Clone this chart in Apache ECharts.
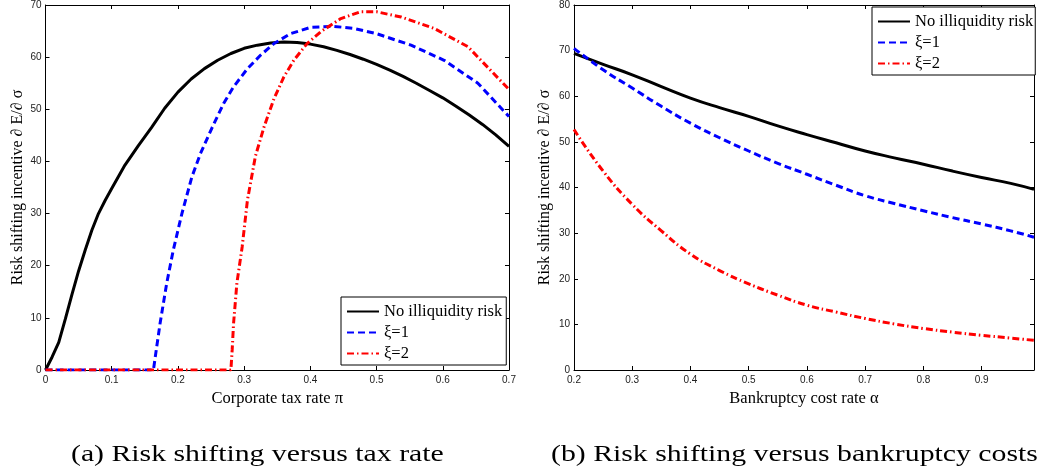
<!DOCTYPE html>
<html>
<head>
<meta charset="utf-8">
<script src="https://cdn.jsdelivr.net/npm/echarts@6/dist/echarts.min.js"></script>
<style>
html,body{margin:0;padding:0;background:#fff;}
#c{width:1037px;height:475px;}
</style>
</head>
<body>
<div id="c"></div>
<script>
// ---- Data ----
const seriesNames = ['No illiquidity risk', 'ξ=1', 'ξ=2'];

// (a) Risk shifting vs corporate tax rate π
const taxNoIlliq = [[0,0],[0.01,2.5],[0.02,5.3],[0.03,9.8],[0.04,14.5],[0.05,19],[0.06,23],[0.07,26.8],[0.08,30],[0.09,32.5],[0.10,34.8],[0.12,39.3],[0.14,43],[0.16,46.5],[0.18,50.2],[0.20,53.3],[0.22,55.8],[0.24,57.8],[0.26,59.4],[0.28,60.7],[0.30,61.7],[0.32,62.3],[0.34,62.7],[0.36,62.9],[0.38,62.8],[0.40,62.5],[0.42,62],[0.44,61.3],[0.46,60.5],[0.48,59.6],[0.50,58.6],[0.52,57.5],[0.54,56.3],[0.56,55],[0.58,53.6],[0.60,52.2],[0.62,50.6],[0.64,48.9],[0.66,47.1],[0.68,45.1],[0.70,42.9]];
const taxXi1 = [[0,0],[0.163,0],[0.168,4.5],[0.173,8.9],[0.183,16.6],[0.193,23],[0.206,30],[0.221,37],[0.234,41.5],[0.252,46.6],[0.269,51.1],[0.284,54.3],[0.305,57.8],[0.325,60.4],[0.345,62.6],[0.37,64.5],[0.4,65.7],[0.436,65.9],[0.466,65.5],[0.5,64.5],[0.552,62.3],[0.602,59.4],[0.653,55],[0.7,48.6]];
const taxXi2 = [[0,0],[0.28,0],[0.282,4],[0.284,8.9],[0.289,16.6],[0.297,23.6],[0.305,32.6],[0.317,41],[0.33,46.6],[0.345,52],[0.36,56.2],[0.375,59.4],[0.395,62.6],[0.416,64.9],[0.446,67.4],[0.476,68.7],[0.5,68.7],[0.537,67.7],[0.587,65.5],[0.638,62],[0.7,53.8]];

// (b) Risk shifting vs bankruptcy cost rate α
const alphaX   = [0.2,0.25,0.3,0.35,0.4,0.45,0.5,0.55,0.6,0.65,0.7,0.75,0.8,0.85,0.9,0.95,0.99];
const bkNoIlliq = [69.4,67,64.7,62.1,59.6,57.5,55.6,53.5,51.6,49.8,48,46.5,45.1,43.6,42.2,40.9,39.6];
const bkXi1     = [70.5,65.8,61.8,57.8,54.1,50.9,48,45.3,42.9,40.5,38.2,36.5,34.9,33.4,32,30.5,29.1];
const bkXi2     = [52.7,43.6,36.3,30.5,25.4,21.8,18.9,16.4,14.2,12.7,11.3,10.1,9.1,8.3,7.6,7,6.5];

const xTitleA = 'Corporate tax rate π';
const xTitleB = 'Bankruptcy cost rate α';
const yTitle = 'Risk shifting incentive ∂ E/∂ σ';
const captionA = '(a) Risk shifting versus tax rate';
const captionB = '(b) Risk shifting versus bankruptcy costs';

// ---- Styles ----
const colors = ['#000000', '#0000ff', '#ff0000'];
const lineTypes = ['solid', [7,4], [7,3,1.5,3]];
const serif = 'Liberation Serif';
const sans = 'Liberation Sans';

function pairs(xs, ys){ return xs.map((x,i)=>[x, ys[i]]); }
function fmtX(v){
  const r = Math.round(v*10)/10;
  if (Math.abs(r - v) > 1e-6) return '';
  return r === 0 ? '0' : String(r);
}

function axisPair(gi, min, max, interval, isX, name, gap){
  const common = {
    gridIndex: gi, type: 'value', min: min, max: max, interval: interval,
    axisLine: {show: true, onZero: false, lineStyle: {color: '#000', width: 1}},
    axisTick: {show: true, inside: true, length: 4, lineStyle: {color: '#000', width: 1}},
    splitLine: {show: false}
  };
  const main = Object.assign({}, common, {
    position: isX ? 'bottom' : 'left',
    axisLabel: {show: true, fontFamily: sans, fontSize: 10, color: '#222', margin: isX ? 5 : 4,
      formatter: isX ? fmtX : (v => String(Math.round(v))), showMaxLabel: true},
    name: name, nameLocation: 'middle',
    nameGap: gap,
    nameTextStyle: {fontFamily: serif, fontSize: isX ? 16.5 : 16, color: '#000'}
  });
  const opp = Object.assign({}, common, {
    position: isX ? 'top' : 'right',
    axisLabel: {show: false}
  });
  return [main, opp];
}

const xa = axisPair(0, 0, 0.7, 0.1, true, xTitleA, 16);
const xb = axisPair(1, 0.2, 0.99, 0.1, true, xTitleB, 16);
const ya = axisPair(0, 0, 70, 10, false, yTitle, 19.5);
const yb = axisPair(1, 0, 80, 10, false, yTitle, 21);

function mkSeries(name, idx, data, gi, smooth){
  return {
    name: name, type: 'line', xAxisIndex: gi*2, yAxisIndex: gi*2,
    data: data, symbol: 'none', smooth: smooth, clip: true,
    lineStyle: {color: colors[idx], width: 3, type: lineTypes[idx]},
    itemStyle: {color: colors[idx]}
  };
}

const legendCommon = {
  orient: 'vertical', backgroundColor: '#fff', borderColor: '#000', borderWidth: 1,
  padding: [6, 4, 3, 5], itemGap: 4, itemWidth: 32, itemHeight: 2,
  itemStyle: {color: 'rgba(0,0,0,0)', borderWidth: 0, opacity: 0},
  textStyle: {fontFamily: serif, fontSize: 16.5, color: '#000', lineHeight: 17},
  data: seriesNames
};

const option = {
  animation: false,
  backgroundColor: '#fff',
  grid: [
    {left: 45.5, right: 528, top: 5, bottom: 105, containLabel: false},
    {left: 574, right: 1.5, top: 3, bottom: 105, containLabel: false}
  ],
  xAxis: [xa[0], xa[1], xb[0], xb[1]],
  yAxis: [ya[0], ya[1], yb[0], yb[1]],
  legend: [
    Object.assign({}, legendCommon, {left: 341, top: 297}),
    Object.assign({}, legendCommon, {left: 872, top: 7, padding: [6, 2, 3, 5]})
  ],
  series: [
    mkSeries(seriesNames[0], 0, taxNoIlliq, 0, false),
    mkSeries(seriesNames[1], 1, taxXi1, 0, false),
    mkSeries(seriesNames[2], 2, taxXi2, 0, false),
    mkSeries(seriesNames[0], 0, pairs(alphaX, bkNoIlliq), 1, true),
    mkSeries(seriesNames[1], 1, pairs(alphaX, bkXi1), 1, true),
    mkSeries(seriesNames[2], 2, pairs(alphaX, bkXi2), 1, true)
  ],
  graphic: [
    {type: 'text', x: 71, y: 467, scaleX: 1.24, style: {text: captionA, font: '24px "Liberation Serif"', fill: '#000', textVerticalAlign: 'bottom'}},
    {type: 'text', x: 551, y: 467, scaleX: 1.24, style: {text: captionB, font: '24px "Liberation Serif"', fill: '#000', textVerticalAlign: 'bottom'}}
  ]
};

const chart = echarts.init(document.getElementById('c'), null, {renderer: 'canvas'});
chart.setOption(option);
</script>
</body>
</html>
